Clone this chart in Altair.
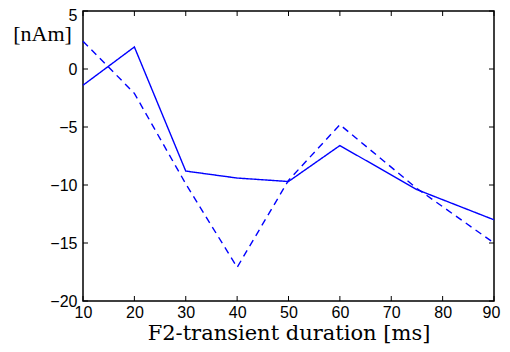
import altair as alt
import pandas as pd

durations = [10, 20, 30, 40, 50, 60, 75, 90]
solid_vals = [-1.4, 1.9, -8.8, -9.4, -9.7, -6.6, -10.4, -13.0]
dashed_vals = [2.4, -2.1, -9.9, -17.1, -9.6, -4.8, -10.3, -15.0]
x_ticks = [10, 20, 30, 40, 50, 60, 70, 80, 90]
y_ticks = [-20, -15, -10, -5, 0, 5]

W, H = 411, 290
TL = 5

rows = []
for d, v in zip(durations, solid_vals):
    rows.append({"x": d, "y": v, "s": "solid"})
for d, v in zip(durations, dashed_vals):
    rows.append({"x": d, "y": v, "s": "dashed"})
df = pd.DataFrame(rows)
xt = pd.DataFrame({"t": x_ticks})
yt = pd.DataFrame({"t": y_ticks})

xs = alt.Scale(domain=[10, 90], nice=False, zero=False)
ys = alt.Scale(domain=[-20, 5], nice=False, zero=False)

lines = alt.Chart(df).mark_line(color="#0000ff", strokeWidth=1.4).encode(
    x=alt.X("x:Q", scale=xs,
            axis=alt.Axis(values=x_ticks, tickSize=0, domain=False, grid=False,
                          labelFont="Liberation Sans", labelFontSize=16,
                          labelColor="black", labelPadding=3,
                          labelFlush=False, labelOverlap=False,
                          labelOffset={"condition": {"test": "datum.value >= 90", "value": -3},
                                       "value": 0},
                          title="F2-transient duration [ms]",
                          titleFont="DejaVu Serif", titleFontSize=21,
                          titleFontWeight="normal", titleColor="black",
                          titleBaseline="alphabetic", titleY=38)),
    y=alt.Y("y:Q", scale=ys,
            axis=alt.Axis(values=y_ticks, tickSize=0, domain=False, grid=False,
                          labelFont="Liberation Sans", labelFontSize=16,
                          labelColor="black", labelPadding=6,
                          labelFlush=False, labelOverlap=False,
                          labelOffset={"condition": {"test": "datum.value >= 5", "value": 4},
                                       "value": 0},
                          labelExpr="replace(datum.label, '-', '\u2212')",
                          title="[nAm]", titleAngle=0,
                          titleFont="Liberation Serif", titleFontSize=22,
                          titleFontWeight="normal", titleColor="black",
                          titleAlign="center", titleBaseline="alphabetic",
                          titleX=-41, titleY=29)),
    strokeDash=alt.StrokeDash("s:N", scale=alt.Scale(domain=["solid", "dashed"],
                                                      range=[[1, 0], [7, 5]]),
                              legend=None),
    detail="s:N",
)

bx = alt.Chart(xt).mark_rule(color="black", strokeWidth=1).encode(
    x=alt.X("t:Q", scale=xs), y=alt.value(H), y2=alt.value(H - TL))
tx = alt.Chart(xt).mark_rule(color="black", strokeWidth=1).encode(
    x=alt.X("t:Q", scale=xs), y=alt.value(0), y2=alt.value(TL))
ly = alt.Chart(yt).mark_rule(color="black", strokeWidth=1).encode(
    y=alt.Y("t:Q", scale=ys), x=alt.value(0), x2=alt.value(TL))
ry = alt.Chart(yt).mark_rule(color="black", strokeWidth=1).encode(
    y=alt.Y("t:Q", scale=ys), x=alt.value(W), x2=alt.value(W - TL))

chart = alt.layer(lines, bx, tx, ly, ry).properties(
    width=W, height=H,
    background="white",
    autosize=alt.AutoSizeParams(type="none"),
    padding={"left": 75, "top": 3, "right": 8, "bottom": 43},
).configure_view(stroke="black", strokeWidth=1.5)

chart.save("out.html", embed_options={"renderer": "svg", "actions": False})
